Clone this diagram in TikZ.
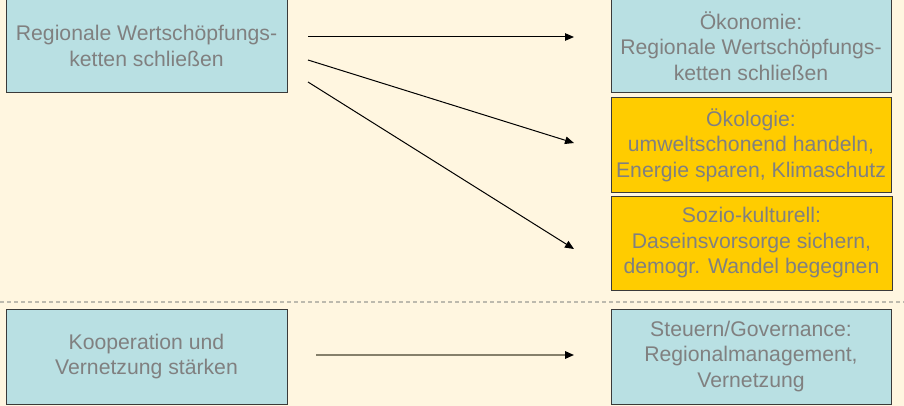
\documentclass[tikz,border=0pt]{standalone}
\usepackage{fontspec}
\setmainfont{Liberation Sans}
\usetikzlibrary{arrows.meta}
\definecolor{bg}{HTML}{FFF6E0}
\definecolor{tealc}{HTML}{B9E0E3}
\definecolor{goldc}{HTML}{FFCC00}
\definecolor{txtc}{HTML}{808080}
\definecolor{edgec}{HTML}{3A3A3A}
\definecolor{dashc}{HTML}{BDBAAE}
\definecolor{garrowc}{HTML}{86806B}
\tikzset{
  box/.style={draw=edgec, line width=1pt, minimum width=281pt, minimum height=94pt,
    inner sep=0pt, align=center, text=txtc, font=\fontsize{21.2}{25.5}\selectfont},
  tbox/.style={box, fill=tealc},
  ybox/.style={box, fill=goldc},
  arr/.style={line width=1pt, -{Triangle[length=9pt,width=7.5pt]}},
  garr/.style={line width=1.6pt, draw=garrowc, -{Triangle[length=9pt,width=7.5pt,fill=black,color=black]}}
}
\begin{document}
\begin{tikzpicture}[x=1pt,y=-1pt]
\useasboundingbox (0,0) rectangle (904,406);
\fill[bg] (0,0) rectangle (904,406);
\node[tbox] (A) at (146.5,46) {Regionale Wertschöpfungs-\\ketten schließen};
\node[tbox, minimum width=280pt] (B) at (751,46) {Ökonomie:\\Regionale Wertschöpfungs-\\ketten schließen};
\node[ybox, minimum width=280pt] (C) at (751,145) {Ökologie:\\umweltschonend handeln,\\Energie sparen, Klimaschutz};
\node[ybox] (D) at (751.5,243) {Sozio-kulturell:\\Daseinsvorsorge sichern,\\demogr. Wandel begegnen};
\node[tbox, minimum height=95pt] (E) at (146.5,356.5) {Kooperation und\\Vernetzung stärken};
\node[tbox, minimum width=280pt, minimum height=95pt] (F) at (751,356.5) {Steuern/Governance:\\Regionalmanagement,\\Vernetzung};
\coordinate (dl) at (0,302);
\coordinate (dr) at (904,302);
\draw[dashc, line width=2pt, dash pattern=on 4pt off 3pt] (dl) -- (dr);
\coordinate (s1) at (308,37);
\coordinate (e1) at (574,37);
\coordinate (s2) at (308,60);
\coordinate (e2) at (574,143);
\coordinate (s3) at (308,82);
\coordinate (e3) at (574,249);
\coordinate (s4) at (316,355);
\coordinate (e4) at (574,355);
\draw[arr] (s1) -- (e1);
\draw[arr] (s2) -- (e2);
\draw[arr] (s3) -- (e3);
\draw[garr] (s4) -- (e4);
\end{tikzpicture}
\end{document}
